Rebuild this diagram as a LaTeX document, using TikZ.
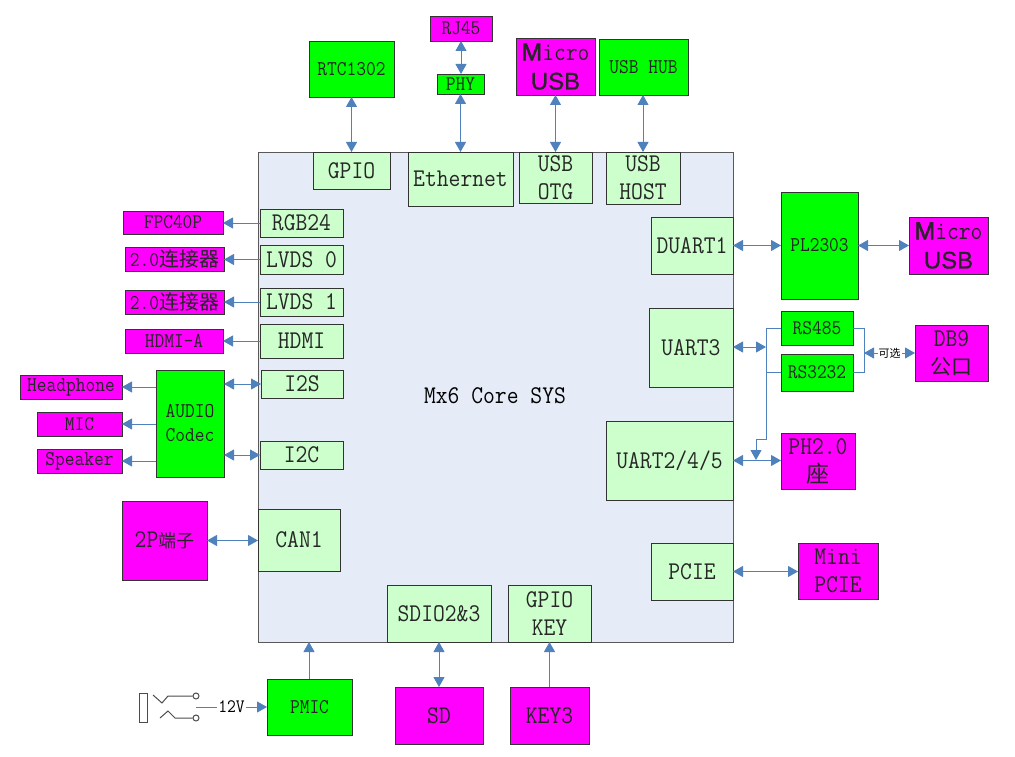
\documentclass[tikz,border=0pt]{standalone}
\usepackage{fontspec}
\setmonofont[FakeStretch=0.9]{Latin Modern Mono}
\newfontfamily\cjk{Noto Sans CJK SC}
\newfontfamily\arialf[FakeBold=0.6]{Liberation Sans}
\newfontfamily\arialg[FakeBold=2]{Liberation Sans}
\usetikzlibrary{arrows.meta}
\definecolor{corefill}{HTML}{E6ECF7}
\definecolor{lgreen}{HTML}{CCFFCC}
\definecolor{lnk}{HTML}{4F81BD}
\definecolor{magbox}{HTML}{FF00FF}
\definecolor{grnbox}{HTML}{00FF00}
\tikzset{
  base/.style={draw=black!80,line width=0.9pt,inner sep=0pt,outer sep=0pt,align=center,text=black!85},
  sml/.style={font=\ttfamily\fontsize{21}{24}\selectfont},
  big/.style={font=\ttfamily\fontsize{25.5}{28}\selectfont},
  iface/.style={base,fill=lgreen,big},
  chip/.style={base,fill=grnbox,sml},
  conn/.style={base,fill=magbox,big},
  connsm/.style={base,fill=magbox,sml},
  core/.style={draw=black!65,line width=0.9pt,fill=corefill,inner sep=0pt,outer sep=0pt},
  both/.style={draw=lnk,line width=1pt,{Triangle[length=10pt,width=11pt]}-{Triangle[length=10pt,width=11pt]}},
  one/.style={draw=lnk,line width=1pt,-{Triangle[length=10pt,width=11pt]}},
  plain/.style={draw=lnk,line width=1pt},
  sw/.style={draw=black!70,line width=1pt},
  lab/.style={fill=white,inner sep=1pt}
}
\newcommand\bx[7][]{%
  \pgfmathsetmacro\cxx{(#3+#5)/2}\pgfmathsetmacro\cyy{(#4+#6)/2}%
  \pgfmathsetmacro\ww{#5-#3}\pgfmathsetmacro\hh{#6-#4}%
  \node[#1,minimum width=\ww pt,minimum height=\hh pt] (#2) at (\cxx,\cyy) {#7};}
\newcommand\mic{{\arialg\fontsize{25}{28}\selectfont M}icro\\[1pt]{\arialf\fontsize{24}{28}\selectfont USB}}
\begin{document}
\begin{tikzpicture}[x=1pt,y=-1pt]
\useasboundingbox (0,0) rectangle (1015,757);
\bx[core]{core}{258}{152}{733}{642}{}
\node[big] (title) at (495,396) {Mx6 Core SYS};
% top
\bx[iface]{gpio}{313}{152}{390}{189}{GPIO}
\bx[iface]{eth}{408}{152}{513}{206}{Ethernet}
\bx[iface]{otg}{519}{152}{592}{203}{USB\\OTG}
\bx[iface]{host}{606}{152}{680}{204}{USB\\HOST}
\bx[chip]{rtc}{309}{41}{394}{97}{RTC1302}
\bx[connsm]{rj}{430}{16}{492}{41}{RJ45}
\bx[chip]{phy}{437}{74}{484}{94}{PHY}
\bx[conn]{mu1}{516}{38}{595}{95}{\mic}
\bx[chip]{hub}{599}{39}{688}{95}{USB HUB}
% left
\bx[iface]{rgb}{260}{209}{343}{237}{RGB24}
\bx[iface]{lv0}{260}{245}{343}{274}{LVDS 0}
\bx[iface]{lv1}{260}{288}{343}{316}{LVDS 1}
\bx[iface]{hdmi}{260}{324}{343}{358}{HDMI}
\bx[iface]{i2s}{261}{370}{343}{398}{I2S}
\bx[iface]{i2c}{260}{441}{343}{469}{I2C}
\bx[iface]{can}{258}{509}{340}{571}{CAN1}
\bx[connsm]{fpc}{123}{211}{223}{234}{FPC40P}
\bx[connsm]{con0}{125}{247}{224}{271}{2.0{\cjk\fontsize{20}{24}\selectfont 连接器}}
\bx[connsm]{con1}{125}{290}{224}{314}{2.0{\cjk\fontsize{20}{24}\selectfont 连接器}}
\bx[connsm]{hdmia}{125}{329}{223}{353}{HDMI-A}
\bx[connsm]{head}{20}{375}{122}{399}{Headphone}
\bx[connsm]{mic}{37}{412}{122}{436}{MIC}
\bx[connsm]{spk}{37}{449}{122}{473}{Speaker}
\bx[chip]{audio}{156}{370}{224}{477}{AUDIO\\Codec}
\bx[conn]{twop}{122}{501}{207}{580}{2P{\cjk\fontsize{18}{24}\selectfont 端子}}
% right
\bx[iface]{duart}{651}{217}{733}{274}{DUART1}
\bx[iface]{uart3}{649}{308}{733}{387}{UART3}
\bx[iface]{uart2}{606}{421}{733}{500}{UART2/4/5}
\bx[iface]{pcie}{651}{543}{733}{600}{PCIE}
\bx[chip]{pl}{781}{192}{858}{299}{PL2303}
\bx[conn]{mu2}{909}{217}{988}{274}{\mic}
\bx[chip]{rs485}{781}{311}{853}{345}{RS485}
\bx[chip]{rs3232}{781}{354}{853}{391}{RS3232}
\bx[conn]{db9}{915}{325}{988}{381}{DB9\\{\cjk\fontsize{21}{28}\selectfont 公口}}
\bx[conn]{ph}{781}{433}{855}{489}{PH2.0\\{\cjk\fontsize{23}{28}\selectfont 座}}
\bx[conn]{mini}{798}{543}{878}{599}{Mini\\PCIE}
% bottom
\bx[iface]{sdio}{387}{585}{491}{642}{SDIO2\&3}
\bx[iface]{key}{508}{585}{591}{642}{GPIO\\KEY}
\bx[chip]{pmic}{267}{679}{352}{735}{PMIC}
\bx[conn]{sd}{395}{687}{483}{744}{SD}
\bx[conn]{keyt}{510}{687}{589}{744}{KEY3}
% top connectors
\draw[both] (rtc.south -| gpio.north) -- (gpio.north);
\draw[both] (rj.south) -- (phy.north -| rj.south);
\draw[both] (phy.south) -- (eth.north -| phy.south);
\draw[both] (mu1.south -| otg.north) -- (otg.north);
\draw[both] (hub.south -| host.north) -- (host.north);
% left connectors
\draw[one] (rgb.west) -- (fpc.east |- rgb.west);
\draw[one] (lv0.west) -- (con0.east |- lv0.west);
\draw[one] (lv1.west) -- (con1.east |- lv1.west);
\draw[one] (hdmi.west) -- (hdmia.east |- hdmi.west);
\draw[both] (audio.east |- i2s.west) -- (i2s.west);
\draw[both] (audio.east |- i2c.west) -- (i2c.west);
\draw[one] (audio.west |- head.east) -- (head.east);
\draw[one] (audio.west |- mic.east) -- (mic.east);
\draw[one] (audio.west |- spk.east) -- (spk.east);
\draw[both] (twop.east) -- (can.west |- twop.east);
% right connectors
\draw[both] (duart.east) -- (pl.west |- duart.east);
\draw[both] (pl.east |- mu2.west) -- (mu2.west);
\coordinate (bus) at (766,347);
\coordinate (busb) at (766,439);
\coordinate (buse) at (756,439);
\coordinate (join) at (756,460);
\coordinate (sumr) at (864,353);
\draw[both] (uart3.east |- bus) -- (bus);
\draw[plain] (rs485.west) -| (busb) -- (buse);
\draw[plain] (rs3232.west) -- (rs3232.west -| bus);
\draw[one] (buse) -- (join);
\draw[both] (uart2.east) -- (ph.west |- uart2.east);
\draw[plain] (rs485.east) -| (sumr);
\draw[plain] (rs3232.east) -| (sumr);
\draw[both] (sumr) -- node[lab,font=\cjk\fontsize{11}{12}\selectfont] (opt) {可选} (db9.west);
\draw[both] (pcie.east) -- (mini.west |- pcie.east);
% bottom connectors
\draw[both] (sd.north -| sdio.south) -- (sdio.south);
\draw[one] (keyt.north -| key.south) -- (key.south);
\coordinate (pwr) at (309,642);
\draw[one] (pmic.north -| pwr) -- (pwr);
% jack
\node[draw=black!70,line width=1pt,fill=white,minimum width=8pt,minimum height=29pt,inner sep=0pt] (jack) at (143,707.5) {};
\node[circle,draw=black!70,line width=1pt,minimum size=6pt,inner sep=0pt] (c1) at (196,696) {};
\node[circle,draw=black!70,line width=1pt,minimum size=6pt,inner sep=0pt] (c2) at (196,718) {};
\draw[sw] (153,695) -- (162,703) -- (168,696) -- (c1.west);
\draw[sw] (160,718) -- (168,711) -- (175,718) -- (c2.west);
\coordinate (in) at (196,707);
\draw[one] (in) -- node[lab,font=\ttfamily\fontsize{19}{20}\selectfont] (v12) {12V} (pmic.west |- in);
\end{tikzpicture}
\end{document}
